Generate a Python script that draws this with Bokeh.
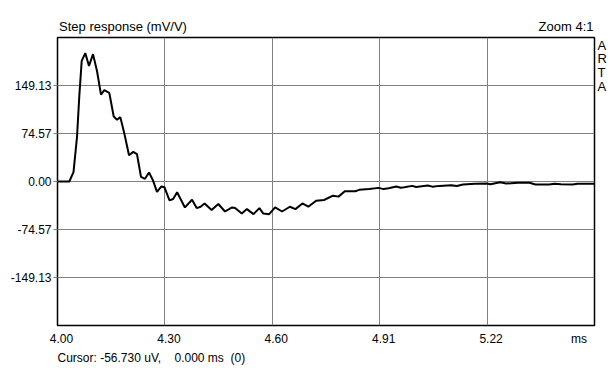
from bokeh.plotting import figure
from bokeh.models import Range1d, FixedTicker, Title, LinearAxis
from bokeh.embed import file_html
from bokeh.resources import INLINE

# Step response data (time in ms, amplitude in mV/V)
time_ms = [4.000, 4.0337, 4.0457, 4.0557, 4.0622, 4.0691, 4.0794, 4.0899, 4.1014, 4.1128,
           4.1242, 4.1336, 4.1479, 4.1605, 4.1699, 4.1793, 4.1907, 4.2042, 4.2164, 4.2270,
           4.2384, 4.2498, 4.2613, 4.2721, 4.2841, 4.2961, 4.3052, 4.3198, 4.3301, 4.3415,
           4.3638, 4.3841, 4.3975, 4.4086, 4.4200, 4.4400, 4.4591, 4.4783, 4.4983, 4.5071,
           4.5263, 4.5408, 4.5597, 4.5765, 4.5876, 4.6045, 4.6213, 4.6413, 4.6636, 4.6793,
           4.6993, 4.7161, 4.7384, 4.7610, 4.7867, 4.8024, 4.8204, 4.8503, 4.8615, 4.8895,
           4.9174, 4.9310, 4.9454, 4.9677, 4.9800, 4.9903, 5.0125, 5.0240, 5.0348, 5.0574,
           5.0700, 5.0908, 5.1245, 5.1400, 5.1579, 5.1916, 5.2250, 5.2361, 5.2641, 5.2809,
           5.3143, 5.3480, 5.3646, 5.4037, 5.4200, 5.4374, 5.4711, 5.4850, 5.5045, 5.5325]
step_mv = [0.0, 0.0, 14.6, 69.1, 132.3, 187.3, 199.4, 179.4, 197.8, 171.6,
           135.0, 141.8, 137.7, 100.9, 95.8, 100.0, 74.9, 40.8, 46.0, 42.4,
           7.1, 4.2, 14.1, 2.4, -16.2, -7.8, -8.9, -29.4, -27.2, -16.8,
           -40.3, -28.3, -41.3, -39.2, -34.1, -44.4, -35.0, -46.6, -40.3, -41.3,
           -49.8, -42.9, -50.7, -41.3, -49.8, -50.7, -40.3, -46.6, -39.2, -42.9,
           -34.1, -39.2, -29.8, -28.7, -22.0, -23.5, -15.2, -15.2, -13.0, -11.5,
           -9.9, -11.8, -10.5, -7.8, -9.6, -8.9, -6.8, -8.6, -7.8, -6.3,
           -8.0, -6.8, -5.8, -6.9, -4.7, -3.6, -3.1, -4.2, -1.1, -3.1,
           -2.0, -2.0, -4.7, -4.7, -3.4, -4.2, -4.7, -3.4, -3.6, -3.6]

x_ticks = [4.0, 4.30667, 4.61333, 4.92, 5.22667]
x_tick_labels = ["4.00", "4.30", "4.60", "4.91", "5.22"]
y_ticks = [-149.13, -74.57, 0.0, 74.57, 149.13]
y_tick_labels = ["-149.13", "-74.57", "0.00", "74.57", "149.13"]
x_limits = (4.0, 5.5333)
y_limits = (-223.7, 223.7)

unit_text = "ms"
title_text = "Step response (mV/V)"
zoom_text = "Zoom 4:1"
brand_letters = ["A", "R", "T", "A"]
cursor_text = "Cursor: -56.730 uV,\u00a0\u00a0\u00a0\u00a00.000 ms\u00a0\u00a0(0)"

# layout anchors for the outer texts (axis positions, not data)
label_shift = 0.0114
unit_pos = 5.4888
title_pos = 4.187
zoom_pos = 5.452
brand_pos = [212.0, 191.3, 169.5, 147.8]

FONT = "Liberation Sans"
FS = "12px"

p = figure(width=614, height=370, output_backend="svg", toolbar_location=None,
           x_range=Range1d(*x_limits), y_range=Range1d(*y_limits),
           min_border_left=57, min_border_right=20, min_border_top=37, min_border_bottom=45)
p.background_fill_color = "white"
p.border_fill_color = "white"
p.outline_line_color = "black"
p.outline_line_width = 1.5

bx = p.below[0]
ly = p.left[0]

label_ticks = [t + label_shift for t in x_ticks]
bx.ticker = FixedTicker(ticks=label_ticks + [unit_pos])
ly.ticker = FixedTicker(ticks=y_ticks)
xo = {t: l for t, l in zip(label_ticks, x_tick_labels)}
xo[unit_pos] = unit_text
bx.major_label_overrides = xo
ly.major_label_overrides = {t: l for t, l in zip(y_ticks, y_tick_labels)}

top_ax = LinearAxis(ticker=FixedTicker(ticks=[title_pos, zoom_pos]),
                    major_label_overrides={title_pos: title_text, zoom_pos: zoom_text})
right_ax = LinearAxis(ticker=FixedTicker(ticks=brand_pos),
                      major_label_overrides={t: l for t, l in zip(brand_pos, brand_letters)})

for ax in (bx, ly, top_ax, right_ax):
    ax.axis_line_color = None
    ax.minor_tick_line_color = None
    ax.major_label_text_font = FONT
    ax.major_label_text_font_size = FS
    ax.major_label_text_color = "black"
    ax.major_tick_in = 0

bx.major_tick_line_color = None
bx.major_tick_out = 0
bx.major_label_standoff = 6
ly.major_tick_line_color = "#808080"
ly.major_tick_out = 4
ly.major_label_standoff = 2
top_ax.major_tick_line_color = None
top_ax.major_tick_out = 0
top_ax.major_label_standoff = 4
top_ax.major_label_text_font_size = "13px"
right_ax.major_tick_line_color = None
right_ax.major_tick_out = 0
right_ax.major_label_standoff = 3
right_ax.major_label_text_font_size = "13px"
p.add_layout(top_ax, "above")
p.add_layout(right_ax, "right")

p.xgrid.ticker = FixedTicker(ticks=x_ticks)
p.ygrid.ticker = FixedTicker(ticks=y_ticks)
for g in (p.xgrid, p.ygrid):
    g.grid_line_color = "#808080"
    g.grid_line_alpha = 1.0
    g.grid_line_width = 1

p.line(time_ms, step_mv, line_color="black", line_width=2)

p.add_layout(Title(text=cursor_text, align="left", text_font=FONT, text_font_size=FS,
                   text_font_style="normal", text_color="black", standoff=0), "below")

open("out.html", "w").write(file_html(p, INLINE))
